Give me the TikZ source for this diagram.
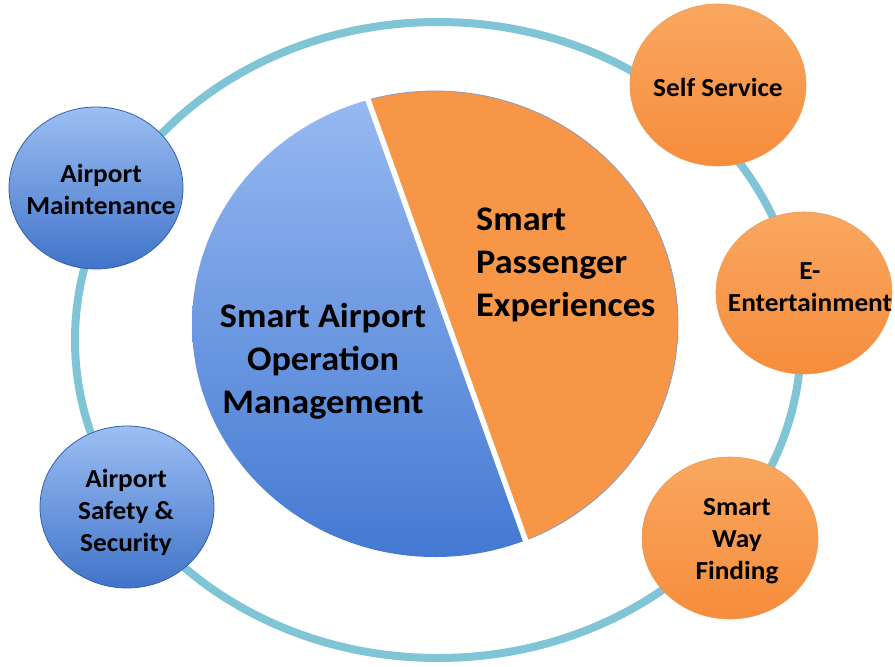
\documentclass[tikz,border=0pt]{standalone}
\usepackage{fontspec}
\setmainfont{Carlito}[FakeStretch=1.05]
\usetikzlibrary{shapes.geometric}
\definecolor{ringc}{HTML}{80C5D6}
\definecolor{pieblueT}{HTML}{97BAF2}
\definecolor{pieblueB}{HTML}{4479D2}
\definecolor{pieorange}{HTML}{F79646}
\definecolor{pieedge}{HTML}{8A9CC0}
\definecolor{cblueT}{HTML}{9CBEF3}
\definecolor{cblueB}{HTML}{4074C9}
\definecolor{cblueE}{HTML}{3560A8}
\definecolor{corangeT}{HTML}{F9A760}
\definecolor{corangeB}{HTML}{F68D3C}
\definecolor{corangeE}{HTML}{EE9A55}
\tikzset{
  bluecirc/.style={ellipse, minimum width=174, minimum height=162, inner sep=0,
    top color=cblueT, bottom color=cblueB, draw=cblueE, line width=0.8},
  orangecirc/.style={ellipse, minimum width=176, minimum height=162, inner sep=0,
    top color=corangeT, bottom color=corangeB, draw=corangeE, line width=0.6},
  smalltxt/.style={font=\bfseries\fontsize{26}{32}\selectfont, align=center, inner sep=0, text=black},
  bigtxt/.style={font=\bfseries\fontsize{34.5}{43}\selectfont, inner sep=0, text=black},
  ringline/.style={draw=ringc, line width=8}
}
\begin{document}
\begin{tikzpicture}[x=1pt,y=-1pt]
\useasboundingbox[fill=white] (0,0) rectangle (895,667);
% ring
\coordinate (rc) at (438,340);
\draw[ringline] (rc) ellipse [x radius=363, y radius=318];
% pie
\coordinate (pc) at (435,324);
\coordinate (s1) at (336,10);
\coordinate (s2) at (559,634);
\begin{scope}
  \clip (s1) -- (s2) -- (0,667) -- (0,0) -- cycle;
  \shade[top color=pieblueT, bottom color=pieblueB] (pc) ellipse [x radius=243, y radius=233];
\end{scope}
\begin{scope}
  \clip (s1) -- (s2) -- (895,667) -- (895,0) -- cycle;
  \fill[pieorange] (pc) ellipse [x radius=243, y radius=233];
  \draw[pieedge, line width=0.8] (pc) ellipse [x radius=243, y radius=233];
\end{scope}
\begin{scope}
  \clip (pc) ellipse [x radius=245, y radius=235];
  \draw[white, line width=5.5] (s1) -- (s2);
\end{scope}
\node[bigtxt, align=center] (sao) at (323,361) {Smart Airport\\Operation\\Management};
\node[bigtxt, align=left, anchor=west] (spe) at (476,265) {Smart\\Passenger\\Experiences};
% satellites
\node[bluecirc] (maint) at (96,188) {};
\node[smalltxt] (maintt) at (101,189) {Airport\\Maintenance};
\node[bluecirc] (safe) at (127,507) {};
\node[smalltxt] (safet) at (126,512) {Airport\\Safety \&\\Security};
\node[orangecirc] (self) at (718,85) {};
\node[smalltxt] (selft) at (718,87) {Self Service};
\node[orangecirc] (ent) at (804,293) {};
\node[smalltxt] (entt) at (810,287) {E-\\Entertainment};
\node[orangecirc] (way) at (730,538) {};
\node[smalltxt] (wayt) at (737,541) {Smart\\Way\\Finding};
\end{tikzpicture}
\end{document}
